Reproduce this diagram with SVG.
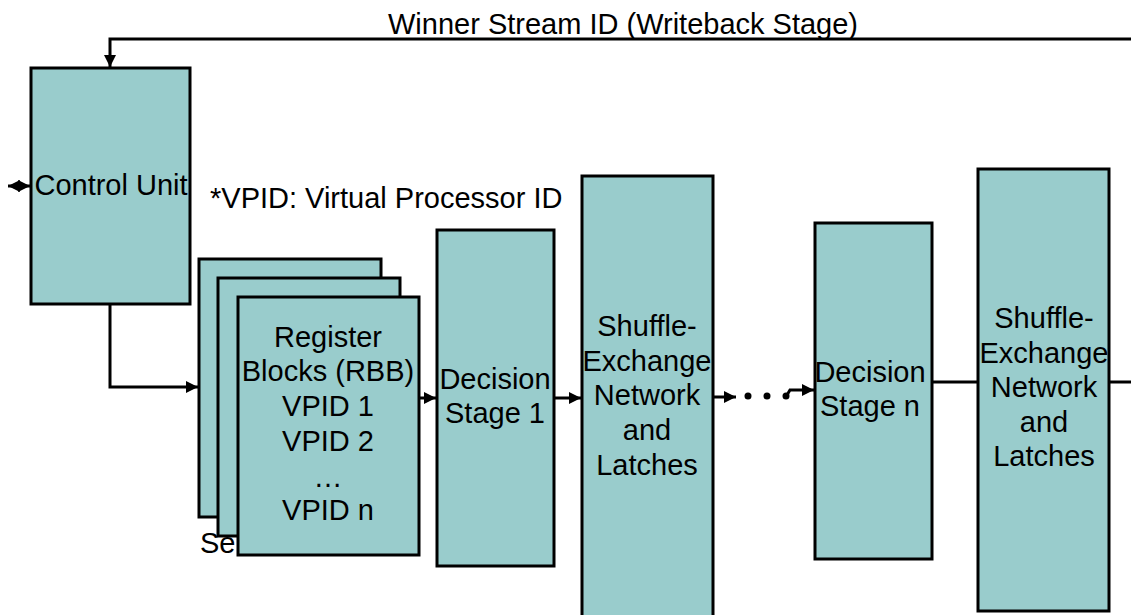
<svg xmlns="http://www.w3.org/2000/svg" width="1131" height="615" viewBox="0 0 1131 615">
  <defs>
    <marker id="arrow" viewBox="0 0 10 10" refX="10" refY="5" markerWidth="4" markerHeight="4" markerUnits="strokeWidth" orient="auto-start-reverse">
      <path d="M0,0 L10,5 L0,10 z" fill="#000"/>
    </marker>
  </defs>
  <style>
    .box { fill: #99cccc; stroke: #000; stroke-width: 3; }
    .lbl { font-family: "Liberation Sans", Arial, sans-serif; font-size: 29px; fill: #000; text-anchor: middle; }
    .note { font-family: "Liberation Sans", Arial, sans-serif; font-size: 29px; fill: #000; }
    .wire { fill: none; stroke: #000; stroke-width: 3; }
  </style>
  <rect width="1131" height="615" fill="#fff"/>

  <text class="lbl" x="623" y="34">Winner Stream ID (Writeback Stage)</text>
  <text class="note" x="210" y="208">*VPID: Virtual Processor ID</text>

  <g id="control-unit">
    <rect class="box" x="31" y="68" width="159" height="236"/>
    <text class="lbl" x="111" y="195">Control Unit</text>
  </g>

  <g id="register-blocks">
    <rect class="box" x="199" y="259" width="182" height="258"/>
    <text class="note" x="200" y="553">Se</text>
    <rect class="box" x="218" y="278" width="182" height="258"/>
    <rect class="box" x="238" y="297" width="181" height="258"/>
    <text class="lbl" x="328" y="347">Register</text>
    <text class="lbl" x="328" y="381">Blocks (RBB)</text>
    <text class="lbl" x="328" y="416">VPID 1</text>
    <text class="lbl" x="328" y="451">VPID 2</text>
    <text class="lbl" x="328" y="487">…</text>
    <text class="lbl" x="328" y="520">VPID n</text>
  </g>

  <g id="decision-1">
    <rect class="box" x="437" y="230" width="117" height="336"/>
    <text class="lbl" x="495" y="389">Decision</text>
    <text class="lbl" x="495" y="423">Stage 1</text>
  </g>

  <g id="shuffle-1">
    <rect class="box" x="582" y="176" width="131" height="445"/>
    <text class="lbl" x="647" y="336">Shuffle-</text>
    <text class="lbl" x="647" y="371">Exchange</text>
    <text class="lbl" x="647" y="405">Network</text>
    <text class="lbl" x="647" y="440">and</text>
    <text class="lbl" x="647" y="475">Latches</text>
  </g>

  <g id="decision-n">
    <rect class="box" x="815" y="223" width="117" height="336"/>
    <text class="lbl" x="870" y="382">Decision</text>
    <text class="lbl" x="870" y="416">Stage n</text>
  </g>

  <g id="shuffle-n">
    <rect class="box" x="978" y="169" width="131" height="442"/>
    <text class="lbl" x="1044" y="328">Shuffle-</text>
    <text class="lbl" x="1044" y="363">Exchange</text>
    <text class="lbl" x="1044" y="397">Network</text>
    <text class="lbl" x="1044" y="432">and</text>
    <text class="lbl" x="1044" y="466">Latches</text>
  </g>

  <g id="connectors">
    <path class="wire" d="M1131,39 H110 V67" marker-end="url(#arrow)"/>
    <path class="wire" d="M8,186 H30" marker-start="url(#arrow)" marker-end="url(#arrow)"/>
    <path class="wire" d="M110,305 V387 H198" marker-end="url(#arrow)"/>
    <path class="wire" d="M420,398 H436" marker-end="url(#arrow)"/>
    <path class="wire" d="M555,398 H581" marker-end="url(#arrow)"/>
    <path class="wire" d="M714,397 H736" marker-end="url(#arrow)"/>
    <circle cx="748" cy="396" r="3.5"/>
    <circle cx="767" cy="396" r="3.5"/>
    <circle cx="786" cy="396" r="3.5"/>
    <path class="wire" d="M787,395 L790,390 H814" marker-end="url(#arrow)"/>
    <path class="wire" d="M933,382 H978"/>
    <path class="wire" d="M1110,382 H1131"/>
  </g>
</svg>
